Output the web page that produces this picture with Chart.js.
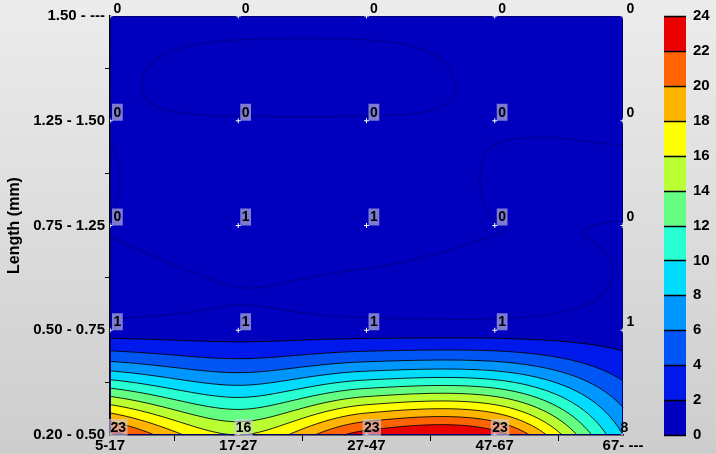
<!DOCTYPE html>
<html>
<head>
<meta charset="utf-8">
<script src="https://cdn.jsdelivr.net/npm/chart.js@4.4.1/dist/chart.umd.min.js"></script>
<style>
  html, body { margin: 0; padding: 0; background: #dcdcdc; }
  #wrap { width: 716px; height: 454px; }
</style>
</head>
<body>
<div id="wrap"><canvas id="c" width="716" height="454"></canvas></div>
<script>
// size classes across, length classes up (bottom row first)
const xLabels = ['5-17', '17-27', '27-47', '47-67', '67- ---'];
const yLabels = ['0.20 - 0.50', '0.50 - 0.75', '0.75 - 1.25', '1.25 - 1.50', '1.50 - ---'];

const row020 = [23, 16, 23, 23, 8];
const row050 = [1, 1, 1, 1, 1];
const row075 = [0, 1, 1, 0, 0];
const row125 = [0, 0, 0, 0, 0];
const row150 = [0, 0, 0, 0, 0];
const rows = [row020, row050, row075, row125, row150];

const levels = [0, 2, 4, 6, 8, 10, 12, 14, 16, 18, 20, 22, 24];
const bandColors = [
    [0, 0, 190], [0, 25, 235], [0, 85, 245], [0, 150, 255],
    [0, 220, 255], [40, 255, 210], [100, 255, 130], [185, 255, 50],
    [255, 255, 0], [255, 180, 0], [255, 100, 0], [235, 0, 0]
];

// grid value with linear extrapolation outside the table
function g(c, r) {
    if (r < 0) return 2 * g(c, 0) - g(c, 1);
    if (r > 4) return 2 * g(c, 4) - g(c, 3);
    if (c < 0) return 2 * g(0, r) - g(1, r);
    if (c > 4) return 2 * g(4, r) - g(3, r);
    return rows[r][c];
}

function cr(p0, p1, p2, p3, t) {
    return 0.5 * (2 * p1 + (-p0 + p2) * t + (2 * p0 - 5 * p1 + 4 * p2 - p3) * t * t +
        (-p0 + 3 * p1 - 3 * p2 + p3) * t * t * t);
}

function field(x, y) {
    const i = Math.min(3, Math.max(0, Math.floor(x)));
    const j = Math.min(3, Math.max(0, Math.floor(y)));
    const t = x - i, s = y - j;
    const v = [];
    for (let r = j - 1; r <= j + 2; r++) {
        v.push(cr(g(i - 1, r), g(i, r), g(i + 1, r), g(i + 2, r), t));
    }
    return cr(v[0], v[1], v[2], v[3], s);
}

function bandOf(v) {
    return Math.min(bandColors.length - 1, Math.max(0, Math.floor(v / 2)));
}

const points = [];
for (let r = 0; r < 5; r++) {
    for (let c = 0; c < 5; c++) {
        points.push({x: c, y: r, v: rows[r][c]});
    }
}

const backgroundPlugin = {
    id: 'bg',
    beforeDraw(chart) {
        const ctx = chart.ctx;
        const grad = ctx.createLinearGradient(0, 0, 0, chart.height);
        grad.addColorStop(0, '#ececec');
        grad.addColorStop(1, '#cdcdcd');
        ctx.save();
        ctx.fillStyle = grad;
        ctx.fillRect(0, 0, chart.width, chart.height);
        ctx.restore();
    }
};

const contourPlugin = {
    id: 'contour',
    beforeDatasetsDraw(chart) {
        const ctx = chart.ctx;
        const xs = chart.scales.x, ys = chart.scales.y;
        const a = chart.chartArea;
        const left = Math.round(a.left), top = Math.round(a.top);
        const w = Math.round(a.right) - left, h = Math.round(a.bottom) - top;
        const img = ctx.createImageData(w, h);
        for (let j = 0; j < h; j++) {
            const yv = ys.getValueForPixel(top + j + 0.5);
            for (let i = 0; i < w; i++) {
                const xv = xs.getValueForPixel(left + i + 0.5);
                const col = bandColors[bandOf(field(xv, yv))];
                const k = (j * w + i) * 4;
                img.data[k] = col[0];
                img.data[k + 1] = col[1];
                img.data[k + 2] = col[2];
                img.data[k + 3] = 255;
            }
        }
        ctx.putImageData(img, left, top);

        // contour lines by marching squares
        const step = 2;
        const nx = Math.ceil(w / step), ny = Math.ceil(h / step);
        const vals = [];
        for (let j = 0; j <= ny; j++) {
            const py = Math.min(a.bottom, top + j * step);
            const yv = ys.getValueForPixel(py);
            const row = [];
            for (let i = 0; i <= nx; i++) {
                const px = Math.min(a.right, left + i * step);
                row.push({px: px, py: py, v: field(xs.getValueForPixel(px), yv)});
            }
            vals.push(row);
        }
        const drawLevel = function (lv, color, lw) {
            ctx.save();
            ctx.strokeStyle = color;
            ctx.lineWidth = lw;
            ctx.beginPath();
            const lerp = function (p, q) {
                const t = (lv - p.v) / (q.v - p.v);
                return [p.px + (q.px - p.px) * t, p.py + (q.py - p.py) * t];
            };
            for (let j = 0; j < ny; j++) {
                for (let i = 0; i < nx; i++) {
                    const p0 = vals[j][i], p1 = vals[j][i + 1], p2 = vals[j + 1][i + 1], p3 = vals[j + 1][i];
                    const pts = [];
                    const edges = [[p0, p1], [p1, p2], [p2, p3], [p3, p0]];
                    edges.forEach(function (e) {
                        if ((e[0].v < lv) !== (e[1].v < lv)) pts.push(lerp(e[0], e[1]));
                    });
                    for (let k = 0; k + 1 < pts.length; k += 2) {
                        ctx.moveTo(pts[k][0], pts[k][1]);
                        ctx.lineTo(pts[k + 1][0], pts[k + 1][1]);
                    }
                }
            }
            ctx.stroke();
            ctx.restore();
        };
        drawLevel(-0.02, 'rgba(0,0,90,0.45)', 1.2);
        for (let k = 1; k < levels.length - 1; k++) {
            drawLevel(levels[k], 'rgba(0,0,0,0.85)', 1);
        }

        // frame
        ctx.save();
        ctx.strokeStyle = '#00006e';
        ctx.lineWidth = 1;
        ctx.strokeRect(a.left + 0.5, a.top + 0.5, a.right - a.left - 1, a.bottom - a.top - 1);
        ctx.restore();
    },
    afterDatasetsDraw(chart) {
        const ctx = chart.ctx;
        const xs = chart.scales.x, ys = chart.scales.y;
        const a = chart.chartArea;
        ctx.save();
        ctx.font = 'bold 14px "Liberation Sans", Arial, sans-serif';
        ctx.textBaseline = 'middle';
        ctx.textAlign = 'left';
        points.forEach(function (p) {
            const px = xs.getPixelForValue(p.x);
            const py = ys.getPixelForValue(p.y);
            const txt = String(p.v);
            const tw = ctx.measureText(txt).width;
            let x0 = px + 2;
            let y0 = py - 17;
            if (p.y === 0) {
                x0 = Math.max(a.left - 1, px - 4);
                y0 = py - 16;
            }
            if (p.y === 4) y0 = py - 16;
            // label box only shows where it sits on the plot
            if (p.y !== 4 && p.x !== 4) {
                ctx.fillStyle = 'rgba(205,205,225,0.6)';
                ctx.fillRect(x0, y0, tw + 3, 17);
            }
            ctx.fillStyle = '#000';
            ctx.fillText(txt, x0 + 1.5, y0 + 9);
        });
        ctx.restore();

        // colour bar
        const cs = chart.scales.cbar;
        const bx = 664, bw = 22;
        ctx.save();
        for (let k = 0; k < levels.length - 1; k++) {
            const y1 = cs.getPixelForValue(levels[k]);
            const y2 = cs.getPixelForValue(levels[k + 1]);
            const col = bandColors[k];
            ctx.fillStyle = 'rgb(' + col[0] + ',' + col[1] + ',' + col[2] + ')';
            ctx.fillRect(bx, y2, bw, y1 - y2);
        }
        ctx.strokeStyle = '#000';
        ctx.lineWidth = 1.5;
        ctx.beginPath();
        levels.forEach(function (lv) {
            const y = Math.round(cs.getPixelForValue(lv)) + 0.5;
            ctx.moveTo(bx, y);
            ctx.lineTo(bx + bw, y);
        });
        ctx.stroke();
        ctx.restore();
    }
};

const tickFont = {family: '"Liberation Sans", Arial, sans-serif', size: 15, weight: 'bold'};

const config = {
    type: 'scatter',
    data: {
        datasets: [{
            data: points,
            pointStyle: 'cross',
            radius: 2.5,
            borderColor: '#ffffff',
            backgroundColor: '#ffffff',
            borderWidth: 1,
        }]
    },
    options: {
        responsive: false,
        animation: false,
        events: [],
        layout: {padding: {top: 16, left: 0, right: 0, bottom: 0}},
        plugins: {legend: {display: false}, tooltip: {enabled: false}},
        scales: {
            x: {
                type: 'linear',
                min: 0,
                max: 4,
                offset: false,
                afterFit: function (scale) { scale.height = 19; },
                ticks: {
                    stepSize: 0.5,
                    autoSkip: false,
                    maxRotation: 0,
                    minRotation: 0,
                    padding: -4,
                    color: '#000',
                    font: tickFont,
                    callback: function (v) { return Number.isInteger(v) ? xLabels[v] : ''; }
                },
                grid: {
                    drawOnChartArea: false,
                    tickLength: 6,
                    color: function (c) { return c.tick && Number.isInteger(c.tick.value) ? 'rgba(0,0,0,0)' : '#000'; }
                },
                border: {display: true, color: '#000', width: 1.5}
            },
            y: {
                type: 'linear',
                min: 0,
                max: 4,
                afterFit: function (scale) { scale.width = 110; },
                title: {
                    display: true,
                    text: 'Length (mm)',
                    color: '#000',
                    font: {family: '"Liberation Sans", Arial, sans-serif', size: 16, weight: 'bold'},
                    padding: {top: 5, bottom: 0}
                },
                ticks: {
                    stepSize: 0.5,
                    autoSkip: false,
                    padding: 0,
                    color: '#000',
                    font: tickFont,
                    callback: function (v) { return Number.isInteger(v) ? yLabels[v] : ''; }
                },
                grid: {
                    drawOnChartArea: false,
                    tickLength: 5,
                    color: function (c) { return c.tick && Number.isInteger(c.tick.value) ? 'rgba(0,0,0,0)' : '#000'; }
                },
                border: {display: true, color: '#000', width: 1.5}
            },
            cbar: {
                type: 'linear',
                position: 'right',
                min: 0,
                max: 24,
                afterFit: function (scale) { scale.width = 93; },
                ticks: {
                    stepSize: 2,
                    autoSkip: false,
                    padding: 4,
                    color: '#000',
                    font: tickFont
                },
                grid: {display: true, drawTicks: true, tickLength: 66, drawOnChartArea: false, color: 'rgba(0,0,0,0)'},
                border: {display: false}
            }
        }
    },
    plugins: [backgroundPlugin, contourPlugin]
};

new Chart(document.getElementById('c'), config);
</script>
</body>
</html>
